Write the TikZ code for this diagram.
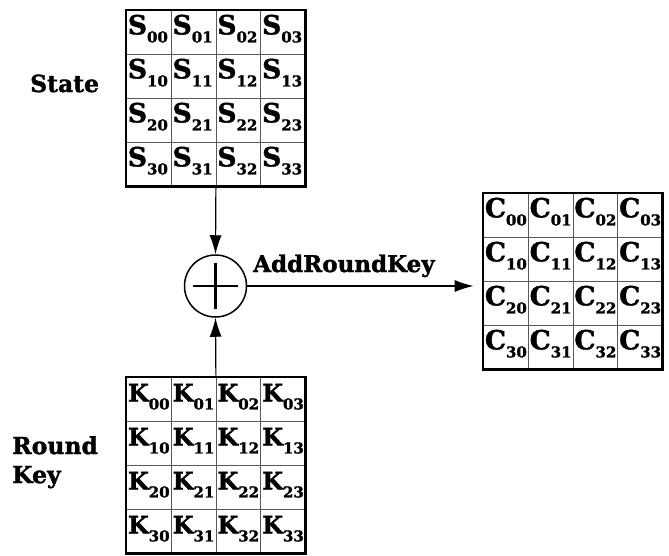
\documentclass[tikz,border=0pt]{standalone}
\usepackage{fontspec}
\setmainfont{DejaVu Serif}[BoldFeatures={FakeBold=1.5}]
\usetikzlibrary{arrows.meta,fit}

% one byte of a 4x4 block: letter of size #3 with a lowered two-digit index
\newcommand\bytecell[3]{{\fontsize{#3}{#3}\selectfont #1}\raisebox{-8pt}{\fontsize{15}{15}\selectfont #2}}

% 4x4 block of bytes: #1 name, #2 letter, #3 left x, #4 top y, #5 letter size
\newcommand\byteblock[5]{%
  \foreach \r in {0,...,3}{
    \foreach \c in {0,...,3}{
      \node[cell] (#1\r\c) at ({#3+\c*44.75},{#4+\r*44}) {\bytecell{#2}{\r\c}{#5}};
    }
  }
  \node[block, fit=(#100)(#133)] (#1) {};
}

\begin{document}
\begin{tikzpicture}[x=1pt,y=-1pt,
  font=\bfseries,
  cell/.style={anchor=north west, draw=black!65, line width=0.8pt,
    text width=41.75pt, inner xsep=1.5pt, inner ysep=0pt,
    text height=24pt, text depth=20pt, align=left},
  block/.style={draw=black, line width=2.8pt, inner sep=0pt},
  lbl/.style={inner sep=0pt, font=\bfseries\fontsize{23.5}{29}\selectfont},
  arr/.style={line width=1.2pt, -{Latex[length=19pt,width=12pt]}}]

\useasboundingbox (0,0) rectangle (669,555);

% State, round key and result blocks
\byteblock{S}{S}{126}{10}{26.5}
\byteblock{K}{K}{126}{377}{24}
\byteblock{C}{C}{483}{193}{26.5}

% XOR operator
\node[circle, draw, line width=1.5pt, minimum size=62pt, inner sep=0pt] (xor) at (215.5,286) {};
\draw[line width=2.6pt] ([xshift=9pt]xor.west) -- ([xshift=-9pt]xor.east);
\draw[line width=2.6pt] ([yshift=-9pt]xor.north) -- ([yshift=9pt]xor.south);

% connectors
\draw[arr] (S.south) -- (xor.north);
\draw[arr] (K.north) -- (xor.south);
\draw[arr, shorten >=8pt] (xor.east) -- (xor.east -| C.west);

% labels
\node[lbl, anchor=base west] (statelbl) at (30,92) {State};
\node[lbl, anchor=north west, align=left] (keylbl) at (12,436) {Round\\Key};
\node[lbl, anchor=base west, font=\bfseries\fontsize{23}{23}\selectfont] (oplbl) at (253,272) {AddRoundKey};

\end{tikzpicture}
\end{document}
